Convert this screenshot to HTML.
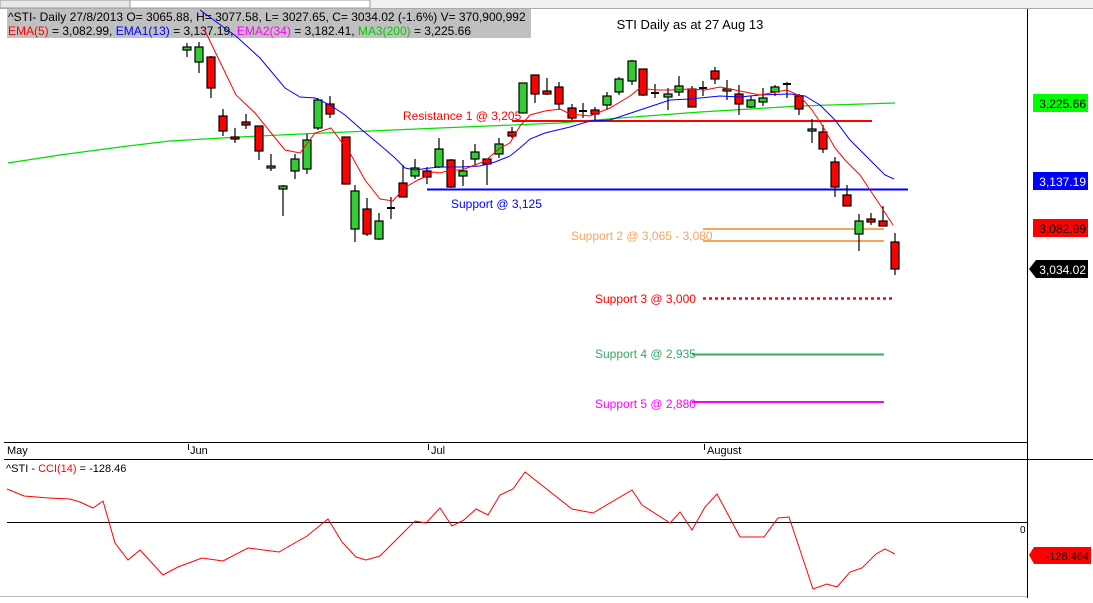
<!DOCTYPE html><html><head><style>
body{margin:0;background:#fff;width:1093px;height:598px;overflow:hidden;font-family:"Liberation Sans",sans-serif}
svg text{font-family:"Liberation Sans",sans-serif}
</style></head><body>
<svg width="1093" height="598" viewBox="0 0 1093 598" xmlns="http://www.w3.org/2000/svg">
<rect x="0" y="0" width="1093" height="8" fill="#f0f0f0"/>
<rect x="0" y="0" width="130" height="8" fill="#e8e8e8" stroke="#999" stroke-width="1"/>
<rect x="130" y="0" width="240" height="8" fill="#fff" stroke="#999" stroke-width="1"/>
<line x1="0" y1="8.5" x2="1093" y2="8.5" stroke="#aaa"/>
<rect x="7" y="9" width="524" height="29" fill="#c0c0c0"/>
<text x="8" y="21" font-size="12" fill="#000">^STI- Daily 27/8/2013 O= 3065.88, H= 3077.58, L= 3027.65, C= 3034.02 (-1.6%) V= 370,900,992</text>
<text x="8" y="35" font-size="12" fill="#000"><tspan fill="#f00">EMA(5)</tspan> = 3,082.99, <tspan fill="#00f">EMA1(13)</tspan> = 3,137.19, <tspan fill="#f0f">EMA2(34)</tspan> = 3,182.41, <tspan fill="#0c0">MA3(200)</tspan> = 3,225.66</text>
<text x="690" y="29" font-size="13" text-anchor="middle" fill="#000">STI Daily as at 27 Aug 13</text>
<line x1="1027.5" y1="9" x2="1027.5" y2="598" stroke="#000"/>
<!-- MA200 -->
<polyline fill="none" stroke="#00e000" stroke-width="1.2" points="8,163 60,155 120,147 170,141 240,137 300,134 440,128 560,123 620,118 700,112 800,106 895,103"/>
<!-- horizontal levels -->
<line x1="512" y1="121" x2="872" y2="121" stroke="#f00" stroke-width="2"/>
<text x="403" y="120" font-size="12" fill="#f00">Resistance 1 @ 3,205</text>
<line x1="427" y1="189.5" x2="908" y2="189.5" stroke="#00f" stroke-width="2"/>
<text x="451" y="208" font-size="12" fill="#00f">Support  @ 3,125</text>
<line x1="703" y1="229" x2="884" y2="229" stroke="#f9a45a" stroke-width="2"/>
<line x1="703" y1="241" x2="884" y2="241" stroke="#f9a45a" stroke-width="2"/>
<text x="571" y="240" font-size="12" fill="#f9a45a">Support 2 @ 3,065 - 3,080</text>
<line x1="703" y1="298.5" x2="892" y2="298.5" stroke="#f00" stroke-width="2.5" stroke-dasharray="3,3"/>
<text x="595" y="303" font-size="12" fill="#f00">Support 3 @ 3,000</text>
<line x1="692" y1="354.5" x2="884" y2="354.5" stroke="#3aa86a" stroke-width="2"/>
<text x="595" y="358" font-size="12" fill="#3aa86a">Support 4 @  2,935</text>
<line x1="692" y1="402" x2="884" y2="402" stroke="#f0f" stroke-width="2"/>
<text x="595" y="408" font-size="12" fill="#f0f">Support 5 @ 2,880</text>
<!-- candles -->
<g stroke="#000" stroke-width="1.2" id="c"></g>
<!-- EMAs -->
<polyline fill="none" stroke="#00f" stroke-width="1" points="200,10 237,37 260,58 285,88 300,97 315,98 330,105 345,115 362,130 380,145 395,158 405,168 415,170 430,168 440,167 460,167 480,166 495,162 510,156 520,148 530,139 545,133 570,127 590,121 610,120 625,115 640,110 655,105 670,100 690,99 710,97 720,96 740,97 760,95 790,94 805,96 820,105 835,120 850,140 870,160 885,175 894,179"/>
<polyline fill="none" stroke="#f00" stroke-width="1" points="204,30 208,37 236,95 255,113 285,150 300,153 315,133 331,128 350,153 365,180 380,199 393,201 404,188 418,180 427,176 433,172 440,173 450,170 462,170 475,165 485,161 500,148 510,143 520,126 530,115 545,111 560,109 570,114 590,116 610,108 630,96 640,88 655,90 670,90 690,89 705,90 715,88 720,87 735,90 760,95 787,90 800,96 812,110 822,125 835,148 845,160 860,175 880,205 893,225"/>
<!-- price labels -->
<rect x="1033" y="94" width="55" height="18" fill="#00ff00"/><text x="1086" y="108" font-size="12" text-anchor="end">3,225.66</text>
<rect x="1033" y="172" width="55" height="18" fill="#0000ff"/><text x="1086" y="186" font-size="12" text-anchor="end" fill="#fff">3,137.19</text>
<rect x="1033" y="219" width="55" height="18" fill="#ff0000"/><text x="1086" y="233" font-size="12" text-anchor="end">3,082.99</text>
<polygon points="1029,269 1036,260 1088,260 1088,278 1036,278" fill="#000"/><text x="1086" y="274" font-size="12" text-anchor="end" fill="#fff">3,034.02</text>
<!-- date axis -->
<line x1="4" y1="442.5" x2="1027" y2="442.5" stroke="#000"/>
<line x1="4" y1="459.5" x2="1093" y2="459.5" stroke="#000"/>
<g font-size="11"><text x="7" y="454">May</text><text x="190" y="454">Jun</text><text x="431" y="454">Jul</text><text x="707" y="454">August</text></g>
<g stroke="#000"><line x1="188.5" y1="444" x2="188.5" y2="450"/><line x1="428.5" y1="444" x2="428.5" y2="450"/><line x1="704.5" y1="444" x2="704.5" y2="450"/></g>
<!-- CCI -->
<text x="6" y="472" font-size="11">^STI - <tspan fill="#f00">CCI(14)</tspan> = -128.46</text>
<line x1="7" y1="522.5" x2="1027" y2="522.5" stroke="#000"/>
<text x="1020" y="533" font-size="10">0</text>
<polyline fill="none" stroke="#f00" stroke-width="1" points="7,489 24,496 49,498 70,499 80,502 93,508 103,501 115,543 128,560 140,550 163,575 178,567 202,558 223,561 248,548 279,552 307,536 328,519 342,542 356,557 366,560 380,556 415,521 426,523 440,508 452,526 464,520 476,509 488,515 500,495 513,489 525,472 572,509 593,513 632,490 642,505 670,523 680,512 692,530 705,507 717,494 740,537 764,537 778,518 789,517 813,589 827,584 837,587 850,572 862,568 876,554 885,549 895,554"/>
<polygon points="1029,555 1034,547 1091,547 1091,564 1034,564" fill="#f00"/><text x="1089" y="560" font-size="11" text-anchor="end">-128.464</text>
<line x1="0" y1="596.5" x2="1027" y2="596.5" stroke="#bbb"/>
</svg>
<script>
var d=[[187,47,50,43,57,1],[199,47,62,42,73,1],[211,57,88,56,98,0],[223,116,131,109,136,0],[235,137,139,128,143,0],[246,122,125,114,129,0],[259,126,151,126,160,0],[271,166,168,154,171,1],[283,186,189,185,216,1],[295,159,171,154,179,1],[307,140,169,134,174,1],[318,100,128,98,130,1],[330,104,114,96,118,0],[346,137,184,137,184,0],[355,191,229,185,242,1],[367,209,234,198,236,0],[379,221,239,213,240,1],[391,208,208,197,219,2],[403,183,197,165,197,0],[415,168,176,159,179,1],[427,171,177,167,184,0],[439,149,167,138,168,1],[451,160,187,159,188,0],[463,171,176,160,186,1],[475,152,159,144,165,1],[487,159,164,159,185,0],[499,144,154,138,158,1],[512,132,136,127,138,0],[523,83,113,83,113,1],[535,75,94,75,103,0],[547,91,94,78,95,0],[559,87,104,82,110,0],[572,108,118,104,120,0],[583,111,111,103,118,2],[595,110,114,107,120,0],[607,96,105,92,110,1],[619,79,92,77,95,1],[632,61,81,60,85,1],[643,69,95,69,96,0],[655,93,93,84,98,2],[668,94,97,88,110,1],[679,86,92,76,96,1],[692,89,107,86,107,0],[703,88,88,81,96,2],[715,71,79,67,84,0],[727,89,91,80,100,1],[739,94,104,85,115,0],[751,100,107,96,108,1],[763,98,102,88,106,1],[775,87,92,85,96,1],[787,84,84,82,98,2],[799,96,109,94,115,0],[812,129,130,119,143,1],[823,132,149,125,153,0],[835,162,187,157,197,0],[847,195,206,185,206,0],[859,221,234,214,251,1],[871,219,222,213,225,0],[883,221,226,206,226,0],[895,242,269,233,275,0]];
var g=document.getElementById('c'),s='';
d.forEach(function(c){var x=c[0];s+='<line x1="'+x+'" y1="'+c[3]+'" x2="'+x+'" y2="'+c[4]+'"/>';
if(c[5]==2)s+='<line x1="'+(x-4)+'" y1="'+c[1]+'" x2="'+(x+4)+'" y2="'+c[1]+'" stroke-width="2"/>';
else s+='<rect x="'+(x-4)+'" y="'+c[1]+'" width="8" height="'+Math.max(2,c[2]-c[1])+'" fill="'+(c[5]?'#33cc33':'#ff0000')+'"/>';});
g.innerHTML=s;
</script>
</body></html>
